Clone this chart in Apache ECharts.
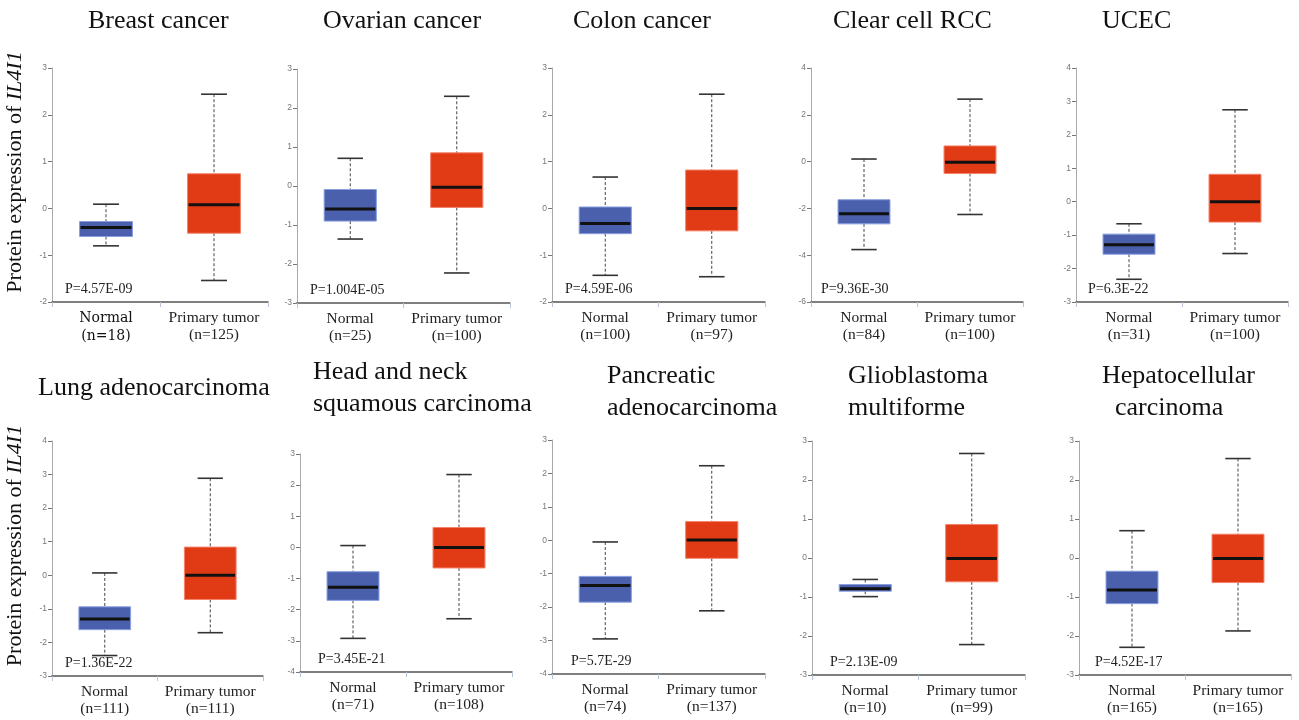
<!DOCTYPE html>
<html><head><meta charset="utf-8">
<script src="https://cdn.jsdelivr.net/npm/echarts@6/dist/echarts.min.js"></script>
<style>html,body{margin:0;padding:0;background:#fff}#c{width:1299px;height:720px}</style>
</head><body><div id="c"></div>
<script>
// ---------- data ----------
const titles = ['Breast cancer','Ovarian cancer','Colon cancer','Clear cell RCC','UCEC',
  'Lung adenocarcinoma','Head and neck\nsquamous carcinoma','Pancreatic\nadenocarcinoma',
  'Glioblastoma\nmultiforme','Hepatocellular\n  carcinoma'];
const groups = ['Normal','Primary tumor'];
const normalN = [18,25,100,84,31,111,71,74,10,165];
const tumorN  = [125,100,97,100,100,111,108,137,99,165];
const pValues = ['4.57E-09','1.004E-05','4.59E-06','9.36E-30','6.3E-22',
  '1.36E-22','3.45E-21','5.7E-29','2.13E-09','4.52E-17'];
// [lower whisker, Q1, median, Q3, upper whisker]
const normalStats = [
  [-0.80,-0.60,-0.41,-0.28,0.09],
  [-1.36,-0.90,-0.59,-0.09,0.71],
  [-1.43,-0.54,-0.32,0.03,0.67],
  [-3.76,-2.66,-2.23,-1.63,0.11],
  [-2.32,-1.57,-1.29,-0.97,-0.66],
  [-2.39,-1.62,-1.30,-0.94,0.07],
  [-2.92,-1.70,-1.28,-0.78,0.06],
  [-2.95,-1.85,-1.35,-1.08,-0.05],
  [-0.99,-0.85,-0.79,-0.68,-0.55],
  [-2.29,-1.17,-0.82,-0.34,0.70]
];
const tumorStats = [
  [-1.54,-0.53,0.08,0.74,2.44],
  [-2.23,-0.55,-0.03,0.85,2.30],
  [-1.46,-0.48,0.00,0.82,2.44],
  [-2.26,-0.51,-0.03,0.67,2.67],
  [-1.55,-0.61,0.00,0.82,2.75],
  [-1.71,-0.72,0.00,0.84,2.89],
  [-2.29,-0.66,0.00,0.64,2.34],
  [-2.11,-0.54,0.01,0.56,2.23],
  [-2.22,-0.61,-0.01,0.86,2.68],
  [-1.87,-0.63,-0.01,0.61,2.55]
];
const yMin  = [-2,-3,-2,-6,-3,-3,-4,-4,-3,-3];
const yMax  = [3,3,3,4,4,4,3,3,3,3];
const yStep = [1,1,1,2,1,1,1,1,1,1];
const yAxisTitle = 'Protein expression of {i|IL4I1}';

// ---------- layout ----------
const grids = [
  [52,68,216,234],[297,69,213,234],[552,68,213,234],[811,68,212,234],[1076,68,212,234],
  [52,441,211,235],[300,454,212,218],[552,440,213,234],[812,441,213,234],[1079,441,212,234]
];
const titlePos = [
  [88,5],[323,5],[573,5],[833,5],[1102,5],
  [38,372],[313,356],[607,360],[848,360],[1102,360]
];
const pOffset = [13,13,13,10,12,13,18,19,18,16];

const BLUE = '#4a60ad', BLUE_EDGE = '#8a9ee0';
const RED = '#e03b15', RED_EDGE = '#f5826a';
const SERIF = '"Liberation Serif","Times New Roman",serif';

function renderBox(params, api) {
  const cat = api.value(0);
  const lo = api.coord([cat, api.value(1)]);
  const q1 = api.coord([cat, api.value(2)]);
  const md = api.coord([cat, api.value(3)]);
  const q3 = api.coord([cat, api.value(4)]);
  const hi = api.coord([cat, api.value(5)]);
  const band = api.size([1, 0])[0];
  const bw = band * 0.49, cw = band * 0.24;
  const x = md[0];
  const fill = cat === 0 ? BLUE : RED;
  const edge = cat === 0 ? BLUE_EDGE : RED_EDGE;
  const dash = {stroke:'#444', lineWidth:1, lineDash:[3,2]};
  const cap = {stroke:'#333', lineWidth:1.6};
  return {type:'group', children:[
    {type:'line', shape:{x1:x,y1:hi[1],x2:x,y2:q3[1]}, style:dash},
    {type:'line', shape:{x1:x,y1:q1[1],x2:x,y2:lo[1]}, style:dash},
    {type:'line', shape:{x1:x-cw/2,y1:hi[1],x2:x+cw/2,y2:hi[1]}, style:cap},
    {type:'line', shape:{x1:x-cw/2,y1:lo[1],x2:x+cw/2,y2:lo[1]}, style:cap},
    {type:'rect', shape:{x:x-bw/2,y:q3[1],width:bw,height:q1[1]-q3[1]}, style:{fill:fill, stroke:edge, lineWidth:1}},
    {type:'line', shape:{x1:x-bw/2+1,y1:md[1],x2:x+bw/2-1,y2:md[1]}, style:{stroke:'#111', lineWidth:3}}
  ]};
}

const option = {animation:false, backgroundColor:'#fff', title:[], grid:[], xAxis:[], yAxis:[], series:[], graphic:[]};

titles.forEach((t, i) => {
  const g = grids[i];
  option.title.push({text:t, left:titlePos[i][0], top:titlePos[i][1], padding:0,
    textStyle:{fontFamily:SERIF, fontSize:26, fontWeight:'normal', color:'#111', lineHeight:32}});
  option.grid.push({left:g[0], top:g[1], width:g[2], height:g[3], containLabel:false});
  const cats = [
    {value: groups[0] + '\n(n=' + normalN[i] + ')'},
    {value: groups[1] + '\n(n=' + tumorN[i] + ')'}
  ];
  if (i === 0) cats[0].textStyle = {fontFamily:'"DejaVu Serif",serif', fontSize:14, fontWeight:'normal', color:'#111', lineHeight:18};
  option.xAxis.push({type:'category', gridIndex:i, data:cats,
    axisLine:{onZero:false, lineStyle:{color:'#555', width:1.5}},
    axisTick:{show:true, length:5, interval:0, lineStyle:{color:'#b8c4d8'}},
    axisLabel:{fontFamily:SERIF, fontSize:15.5, color:'#222', lineHeight:17, margin:7, interval:0},
    splitLine:{show:false}});
  const ya = {type:'value', gridIndex:i, min:yMin[i], max:yMax[i], interval:yStep[i],
    axisLine:{show:true, lineStyle:{color:'#aaa', width:1}},
    axisTick:{show:true, length:4, lineStyle:{color:'#777'}},
    axisLabel:{fontFamily:'"Liberation Sans Narrow","Liberation Sans",sans-serif', fontSize:8.5, color:'#777', margin:5},
    splitLine:{show:false}};
  if (i === 0 || i === 5) {
    ya.name = yAxisTitle;
    ya.nameLocation = 'middle';
    ya.nameGap = 26;
    ya.nameTextStyle = {fontFamily:SERIF, fontSize:22, color:'#111', padding:[0,0,0,26],
      rich:{i:{fontFamily:SERIF, fontSize:22, fontStyle:'italic', color:'#111'}}};
  }
  option.yAxis.push(ya);
  option.series.push({type:'custom', xAxisIndex:i, yAxisIndex:i, renderItem:renderBox,
    encode:{x:0, y:[1,2,3,4,5]},
    data:[[0].concat(normalStats[i]), [1].concat(tumorStats[i])]});
  option.graphic.push({type:'text', x:g[0]+pOffset[i], y:g[1]+g[3]-13,
    style:{text:'P=' + pValues[i], fontFamily:SERIF, fontSize:14, fill:'#222', verticalAlign:'middle'}});
});

const chart = echarts.init(document.getElementById('c'), null, {renderer:'canvas'});
chart.setOption(option);
</script></body></html>
